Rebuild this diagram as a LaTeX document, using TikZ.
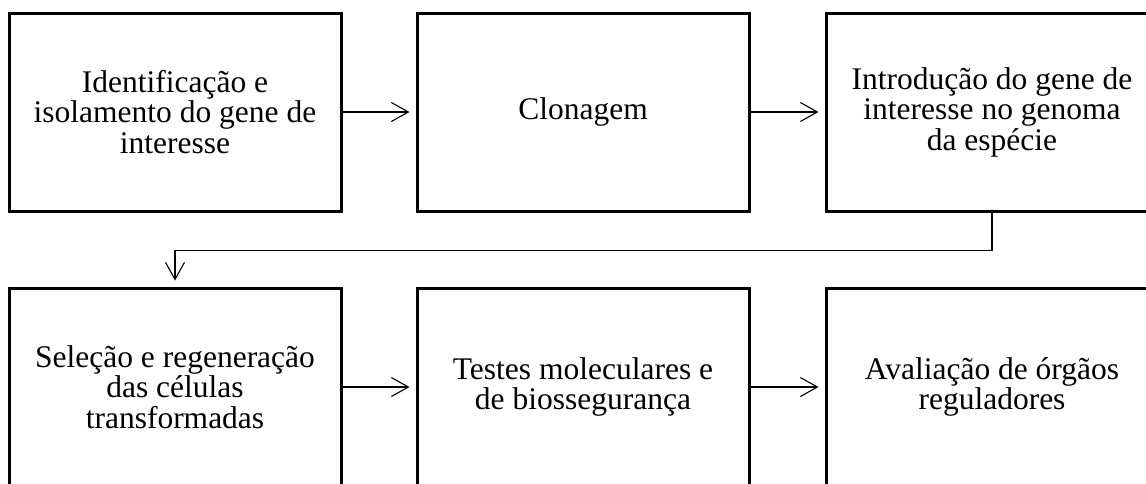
\documentclass[tikz,border=0pt]{standalone}
\usepackage{fontspec}
\setmainfont{Liberation Serif}
\usetikzlibrary{arrows.meta,positioning}
\tikzset{
    stage/.style={
    rectangle,draw=black,line width=3pt,minimum width=332pt,minimum height=198pt,
    align=center,font=\fontsize{31.5pt}{30.5pt}\selectfont
    },
    flow/.style={
    ->,>={Straight Barb[length=17pt,width=19pt]},line width=1.1pt,shorten >=6pt
    },
}
\begin{document}
\begin{tikzpicture}[x=1pt,y=-1pt]
   \useasboundingbox (0,0) rectangle (1146,483);
   % first row
   \node[stage] (ident) at (175,112) {Identificação e\\isolamento do gene de\\interesse};
   \node[stage] (clone) at (583,112) {Clonagem};
   \node[stage] (intro) at (992,112) {Introdução do gene de\\interesse no genoma\\da espécie};
   % second row
   \node[stage] (selec) at (175,387) {Seleção e regeneração\\das células\\transformadas};
   \node[stage] (tests) at (583,387) {Testes moleculares e\\de biossegurança};
   \node[stage] (aval) at (992,387) {Avaliação de órgãos\\reguladores};

  \path[flow]
    (ident) edge node {} (clone)
    (clone) edge node {} (intro)
    (selec) edge node {} (tests)
    (tests) edge node {} (aval);
  \draw[flow] (intro.south) -- ++(0,38) -| (selec.north);
\end{tikzpicture}
\end{document}
